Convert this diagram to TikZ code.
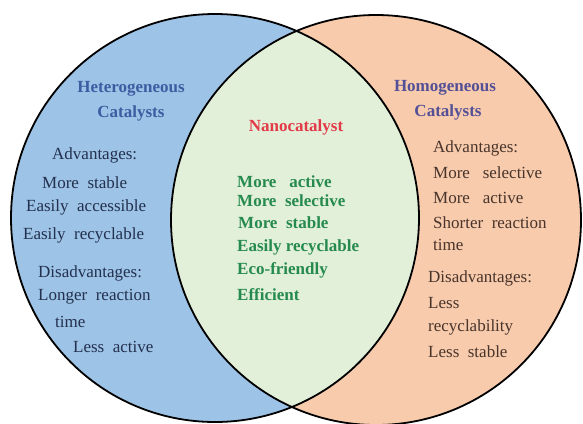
\documentclass[tikz,border=0pt]{standalone}
\usepackage{fontspec}
\setmainfont{Liberation Serif}
\definecolor{lblue}{RGB}{157,195,230}
\definecolor{lpeach}{RGB}{248,203,173}
\definecolor{lgreen}{RGB}{226,240,217}
\definecolor{headblue}{RGB}{62,92,162}
\definecolor{headpurple}{RGB}{84,80,150}
\definecolor{nanored}{RGB}{226,58,72}
\definecolor{nanogreen}{RGB}{38,138,78}
\definecolor{navytext}{RGB}{35,48,78}
\definecolor{browntext}{RGB}{72,52,42}
\begin{document}
\begin{tikzpicture}[x=1pt,y=-1pt,
  txt/.style={inner sep=0pt,font=\fontsize{17}{20}\selectfont},
  lt/.style={txt,anchor=west,text=navytext},
  rt/.style={txt,anchor=west,text=browntext},
  gt/.style={txt,anchor=west,text=nanogreen,font=\fontsize{17}{20}\selectfont\bfseries},
  head/.style={txt,anchor=center,font=\fontsize{17}{20}\selectfont\bfseries}]
\useasboundingbox (0,0) rectangle (583,423);
\fill[white] (0,0) rectangle (583,423);
% circles
\coordinate (cl) at (215,218);
\coordinate (cr) at (376,220);
\fill[lblue] (cl) circle[radius=204];
\fill[lpeach] (cr) circle[radius=205];
\begin{scope}
  \clip (cl) circle[radius=204];
  \fill[lgreen] (cr) circle[radius=205];
\end{scope}
\draw[line width=1.8pt] (cl) circle[radius=204];
\draw[line width=1.8pt] (cr) circle[radius=205];
% left
\node[head,text=headblue] (h1) at (131,89) {Heterogeneous};
\node[head,text=headblue] (h2) at (131,113) {Catalysts};
\node[lt] (l1) at (52,155) {Advantages:};
\node[lt] (l2) at (42,183) {More\ \ stable};
\node[lt] (l3) at (26,207) {Easily\ \ accessible};
\node[lt] (l4) at (23,235) {Easily\ \ recyclable};
\node[lt] (l5) at (38,273) {Disadvantages:};
\node[lt] (l6) at (38,297) {Longer\ \ reaction};
\node[lt] (l7) at (55,322) {time};
\node[lt] (l8) at (73,347) {Less\ \ active};
% middle
\node[head,text=nanored] (n0) at (296,127) {Nanocatalyst};
\node[gt] (g1) at (237,182) {More\ \ \ active};
\node[gt] (g2) at (237,201) {More\ \ selective};
\node[gt] (g3) at (238,223) {More\ \ stable};
\node[gt] (g4) at (237,247) {Easily recyclable};
\node[gt] (g5) at (237,270) {Eco-friendly};
\node[gt] (g6) at (237,295) {Efficient};
% right
\node[head,text=headpurple] (k1) at (445,88) {Homogeneous};
\node[head,text=headpurple] (k2) at (448,112) {Catalysts};
\node[rt] (r1) at (433,148) {Advantages:};
\node[rt] (r2) at (433,173) {More\ \ \ selective};
\node[rt] (r3) at (433,198) {More\ \ \ active};
\node[rt] (r4) at (433,223) {Shorter\ \ reaction};
\node[rt] (r5) at (433,245) {time};
\node[rt] (r6) at (428,278) {Disadvantages:};
\node[rt] (r7) at (428,303) {Less};
\node[rt] (r8) at (428,327) {recyclability};
\node[rt] (r9) at (428,352) {Less\ \ stable};
\end{tikzpicture}
\end{document}
